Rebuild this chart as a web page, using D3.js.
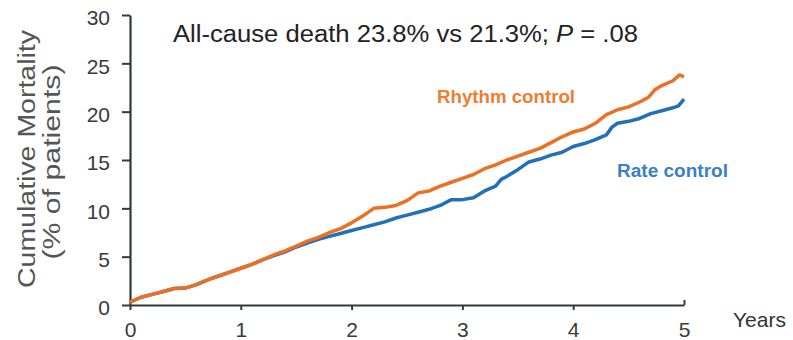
<!DOCTYPE html>
<html>
<head>
<meta charset="utf-8">
<script src="https://cdn.jsdelivr.net/npm/d3@7"></script>
<style>
  html, body { margin: 0; padding: 0; background: #fff; }
  svg { display: block; font-family: "Liberation Sans", Arial, sans-serif; }
</style>
</head>
<body>
<svg id="chart" width="793" height="340"></svg>
<script>
// ---- Data ----
const yearTicks = [0, 1, 2, 3, 4, 5];
const pctTicks = [0, 5, 10, 15, 20, 25, 30];

const rhythmYears = [0, 0.1, 0.2, 0.3, 0.4, 0.5, 0.6, 0.7, 0.8, 0.9, 1.0, 1.1, 1.2, 1.3, 1.4, 1.5, 1.6, 1.7, 1.8, 1.9, 2.0, 2.1, 2.2, 2.3, 2.4, 2.5, 2.6, 2.7, 2.8, 2.9, 3.0, 3.1, 3.2, 3.3, 3.4, 3.5, 3.6, 3.7, 3.8, 3.9, 4.0, 4.1, 4.2, 4.3, 4.4, 4.5, 4.6, 4.68, 4.74, 4.8, 4.9, 4.96, 5.0];
const rhythmPct   = [0.3, 0.8, 1.1, 1.4, 1.7, 1.75, 2.1, 2.6, 3.0, 3.4, 3.8, 4.2, 4.7, 5.2, 5.6, 6.1, 6.6, 7.0, 7.5, 7.9, 8.5, 9.2, 10.0, 10.1, 10.3, 10.8, 11.6, 11.8, 12.3, 12.7, 13.1, 13.5, 14.1, 14.5, 15.0, 15.4, 15.8, 16.2, 16.8, 17.4, 17.9, 18.2, 18.8, 19.7, 20.2, 20.5, 21.0, 21.5, 22.3, 22.7, 23.2, 23.8, 23.6];

const rateYears = [0, 0.1, 0.2, 0.3, 0.4, 0.5, 0.6, 0.7, 0.8, 0.9, 1.0, 1.1, 1.2, 1.3, 1.4, 1.5, 1.6, 1.7, 1.8, 1.9, 2.0, 2.1, 2.2, 2.3, 2.4, 2.5, 2.6, 2.7, 2.8, 2.9, 3.0, 3.1, 3.2, 3.3, 3.35, 3.4, 3.5, 3.6, 3.7, 3.8, 3.9, 4.0, 4.1, 4.2, 4.3, 4.35, 4.4, 4.5, 4.6, 4.7, 4.8, 4.9, 4.95, 5.0];
const ratePct   = [0.3, 0.8, 1.1, 1.4, 1.7, 1.75, 2.1, 2.6, 3.0, 3.4, 3.8, 4.2, 4.7, 5.1, 5.5, 6.0, 6.4, 6.8, 7.1, 7.4, 7.7, 8.0, 8.3, 8.6, 9.0, 9.3, 9.6, 9.9, 10.3, 10.9, 10.9, 11.1, 11.8, 12.3, 13.0, 13.3, 14.0, 14.8, 15.1, 15.5, 15.8, 16.4, 16.7, 17.1, 17.6, 18.4, 18.8, 19.0, 19.3, 19.8, 20.1, 20.4, 20.6, 21.3];

const titleText = "All-cause death 23.8% vs 21.3%; ";
const titleP = "P";
const titleRest = " = .08";
const rhythmLabel = "Rhythm control";
const rateLabel = "Rate control";
const xAxisLabel = "Years";
const yAxisLabel1 = "Cumulative Mortality";
const yAxisLabel2 = "(% of patients)";

// ---- Layout ----
const svg = d3.select("#chart");
const mLeft = 130, mRight = 684, mTop = 15, mBottom = 305;

const x = d3.scaleLinear().domain([0, 5]).range([mLeft, mRight]);
const y = d3.scaleLinear().domain([0, 30]).range([mBottom, mTop]);

const axisColor = "#323a40";
const tickTextColor = "#3a3a3a";

// Y axis
const yAxis = svg.append("g")
  .attr("transform", `translate(${mLeft},0)`)
  .call(d3.axisLeft(y).tickValues(pctTicks).tickSize(8).tickSizeOuter(0).tickPadding(12));
yAxis.select(".domain").attr("stroke", axisColor).attr("stroke-width", 2.2);
yAxis.selectAll(".tick line").attr("stroke", axisColor).attr("stroke-width", 2);
yAxis.selectAll(".tick text").attr("fill", tickTextColor).attr("font-size", 21).attr("dy", "0.47em");

// X axis
const xAxis = svg.append("g")
  .attr("transform", `translate(0,${mBottom})`)
  .call(d3.axisBottom(x).tickValues(yearTicks).tickFormat(d3.format("d"))
    .tickSize(5).tickSizeOuter(0).tickPadding(12));
xAxis.select(".domain").attr("stroke", axisColor).attr("stroke-width", 2.2);
xAxis.selectAll(".tick line").attr("stroke", axisColor).attr("stroke-width", 2)
  .attr("y1", d => d === 5 ? -5 : 0).attr("y2", d => d === 5 ? 0 : 5);
xAxis.selectAll(".tick text").attr("fill", tickTextColor).attr("font-size", 21);

// Lines
const line = d3.line().x(d => x(d[0])).y(d => y(d[1]));
const rhythm = rhythmYears.map((t, i) => [t, rhythmPct[i]]);
const rate = rateYears.map((t, i) => [t, ratePct[i]]);

svg.append("path").datum(rate)
  .attr("fill", "none").attr("stroke", "#2170b8").attr("stroke-width", 3.5)
  .attr("stroke-linejoin", "round").attr("d", line);
svg.append("path").datum(rhythm)
  .attr("fill", "none").attr("stroke", "#ed7022").attr("stroke-width", 3.5)
  .attr("stroke-linejoin", "round").attr("d", line);

// Title
const tt = svg.append("text").attr("x", 173).attr("y", 41.5)
  .attr("font-size", 23).attr("fill", "#222")
  .attr("textLength", 465).attr("lengthAdjust", "spacingAndGlyphs");
tt.append("tspan").text(titleText);
tt.append("tspan").attr("font-style", "italic").text(titleP);
tt.append("tspan").text(titleRest);

// Series labels
svg.append("text").attr("x", 437).attr("y", 102.5).attr("font-size", 18)
  .attr("font-weight", "bold").attr("fill", "#f07c30")
  .attr("textLength", 138).attr("lengthAdjust", "spacingAndGlyphs").text(rhythmLabel);
svg.append("text").attr("x", 617).attr("y", 177).attr("font-size", 18)
  .attr("font-weight", "bold").attr("fill", "#3a80c8")
  .attr("textLength", 111).attr("lengthAdjust", "spacingAndGlyphs").text(rateLabel);

// Axis labels
svg.append("text").attr("x", 733).attr("y", 327).attr("font-size", 21)
  .attr("fill", "#333").text(xAxisLabel);

svg.append("text").attr("transform", `translate(35,159) rotate(-90)`)
  .attr("text-anchor", "middle").attr("font-size", 23.5).attr("fill", "#555")
  .attr("textLength", 258).attr("lengthAdjust", "spacingAndGlyphs")
  .text(yAxisLabel1);
svg.append("text").attr("transform", `translate(60,162) rotate(-90)`)
  .attr("text-anchor", "middle").attr("font-size", 23.5).attr("fill", "#555")
  .attr("textLength", 195).attr("lengthAdjust", "spacingAndGlyphs")
  .text(yAxisLabel2);
</script>
</body>
</html>
